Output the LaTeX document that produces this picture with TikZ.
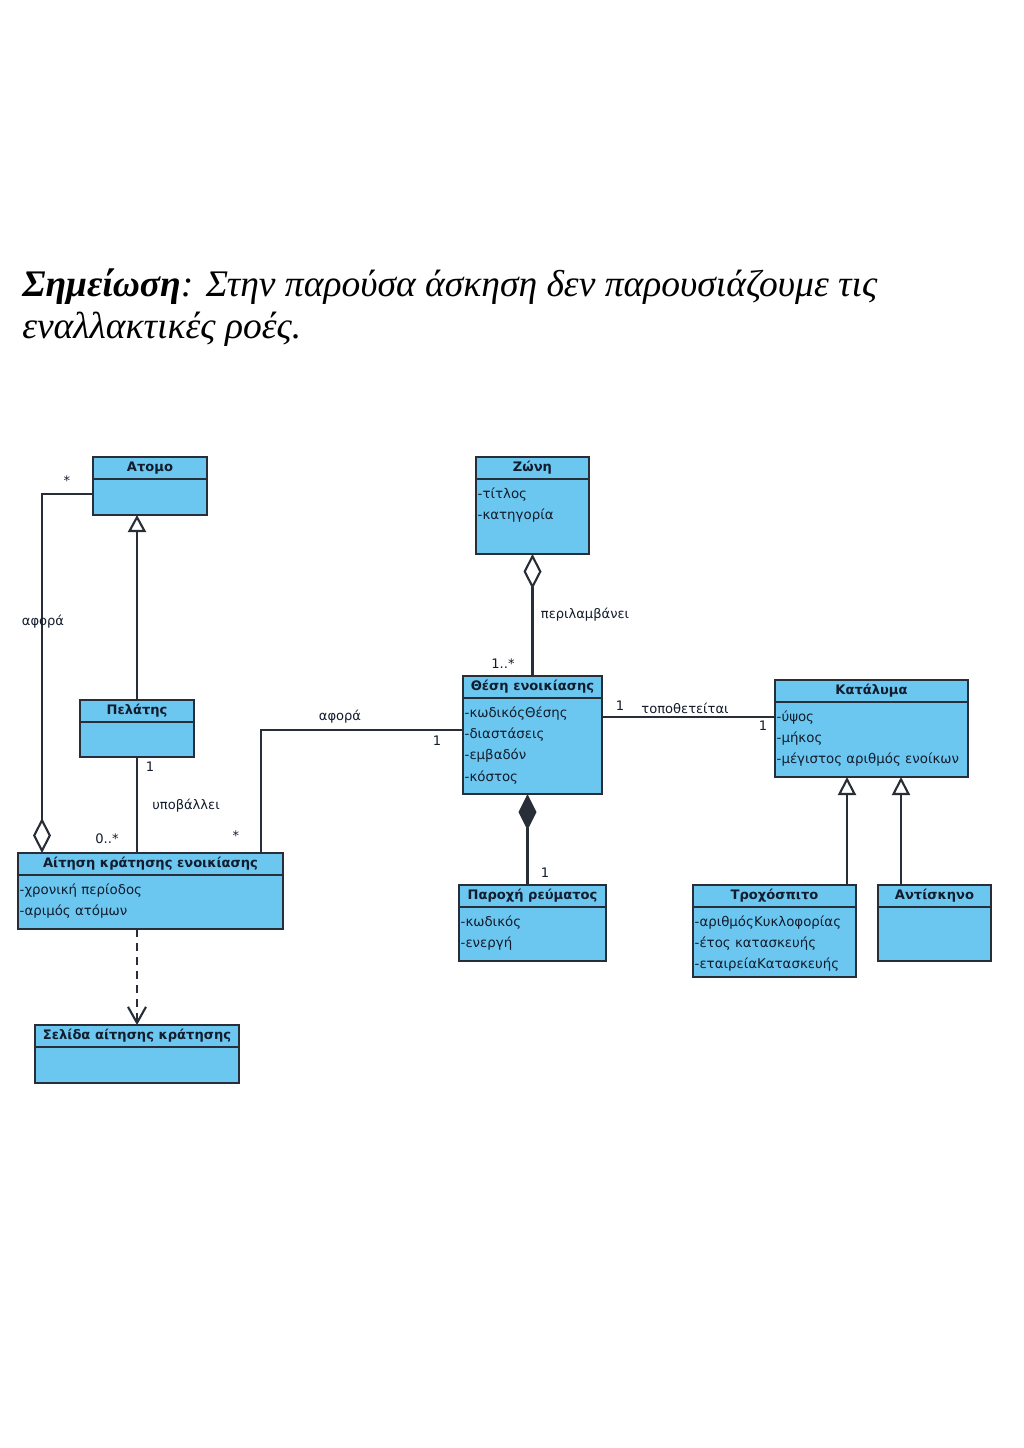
\documentclass[tikz,border=0pt]{standalone}
\usepackage{fontspec}
\setmainfont{Liberation Serif}
\newfontfamily\umlfont{DejaVu Sans}
\usepackage{tikz}
\usetikzlibrary{arrows.meta}
\usetikzlibrary{calc}
\usetikzlibrary{fit}
\definecolor{boxfill}{RGB}{108,199,240}
\definecolor{boxline}{RGB}{40,46,56}
\definecolor{boxtext}{RGB}{18,28,44}
\def\umlclass(#1)(#2,#3)(#4,#5)#6#7{%
    \node[classbox,fit={(#2,#3) (#4,#5)}] (#1) {};%
    \node[classhead,minimum width={(#4-#2)*0.025cm}] (#1-head) at (#2,#3) {#6};%
    \node[classattr] (#1-attr) at (#2,{#3+31}) {#7};%
}
\tikzset{
    classbox/.style={draw=boxline,fill=boxfill,line width=1.4pt,inner sep=0pt,outer sep=0pt},
    classhead/.style={draw=boxline,line width=1.4pt,inner sep=0pt,outer sep=0pt,anchor=north west,minimum height=0.55cm,
        text=boxtext,font=\umlfont\bfseries\fontsize{9.3}{11}\selectfont,text height=7pt,text depth=2pt},
    classattr/.style={anchor=north west,align=left,inner xsep=1pt,inner ysep=0pt,text=boxtext,
        font=\umlfont\fontsize{9.5}{14.94}\selectfont,execute at begin node=\strut},
    umlline/.style={draw=boxline,line width=1.5pt},
    umllabel/.style={text=boxtext,font=\umlfont\fontsize{9.3}{11}\selectfont,inner sep=1pt},
    notetext/.style={font=\itshape\fontsize{26.7}{32}\selectfont,inner sep=0pt,anchor=base west}
}

\begin{document}
\begin{tikzpicture}[x=0.025cm,y=-0.025cm]
        \fill[white] (0,0) rectangle (1024,1448);
        \useasboundingbox (0,0) rectangle (1024,1448);
        \node[notetext] (note1) at (22,296) {\textbf{Σημείωση}: Στην παρούσα άσκηση δεν παρουσιάζουμε τις};
        \node[notetext] (note2) at (22,338) {εναλλακτικές ροές.};

        \umlclass(atomo)(93,457)(207,515){Ατομο}{}
        \umlclass(zoni)(476,457)(589,554){Ζώνη}{-τίτλος\\-κατηγορία}
        \umlclass(pelatis)(80,700)(194,757){Πελάτης}{}
        \umlclass(thesi)(463,676)(602,794){Θέση ενοικίασης}{-κωδικόςΘέσης\\-διαστάσεις\\-εμβαδόν\\-κόστος}
        \umlclass(katalyma)(775,680)(968,777){Κατάλυμα}{-ύψος\\-μήκος\\-μέγιστος αριθμός ενοίκων}
        \umlclass(aitisi)(18,853)(283,929){Αίτηση κράτησης ενοικίασης}{-χρονική περίοδος\\-αριμός ατόμων}
        \umlclass(paroxi)(459,885)(606,961){Παροχή ρεύματος}{-κωδικός\\-ενεργή}
        \umlclass(troxo)(693,885)(856,977){Τροχόσπιτο}{-αριθμόςΚυκλοφορίας\\-έτος κατασκευής\\-εταιρείαΚατασκευής}
        \umlclass(antiskino)(878,885)(991,961){Αντίσκηνο}{}
        \umlclass(selida)(35,1025)(239,1083){Σελίδα αίτησης κράτησης}{}

        \draw[umlline,{Diamond[open,length=8.75mm,width=4.5mm]}-] ($(aitisi.north west)+(24,0)$) |- ($(atomo.west)+(0,8)$);
        \draw[umlline,-{Triangle[open,length=4.25mm,width=4.5mm]}] (pelatis.north) -- (pelatis.north |- atomo.south);
        \draw[umlline] (pelatis.south) -- (pelatis.south |- aitisi.north);
        \draw[umlline] ($(aitisi.north east)+(-22,0)$) |- ($(thesi.west)+(0,-5)$);
        \draw[umlline,{Diamond[open,length=8.75mm,width=4.5mm]}-] (zoni.south) -- (thesi.north);
        \draw[umlline] ($(thesi.east)+(0,-18)$) coordinate (c1) -- (c1 -| katalyma.west);
        \draw[umlline,{Diamond[length=9mm,width=4.5mm]}-] ($(thesi.south)+(-5,0)$) coordinate (c2) -- (c2 |- paroxi.north);
        \draw[umlline,-{Triangle[open,length=4.5mm,width=4.5mm]}] ($(troxo.north east)+(-9,0)$) coordinate (c3) -- (c3 |- katalyma.south);
        \draw[umlline,-{Triangle[open,length=4.5mm,width=4.5mm]}] ($(antiskino.north west)+(23,0)$) coordinate (c4) -- (c4 |- katalyma.south);
        \draw[umlline,dash pattern=on 2mm off 1.5mm,-{Straight Barb[length=4mm,width=4.5mm]}] (selida.north |- aitisi.south) -- (selida.north);

        \node[umllabel] (m1) at (67,481) {*};
        \node[umllabel] (l1) at (43,622) {αφορά};
        \node[umllabel] (m2) at (150,767) {1};
        \node[umllabel] (l2) at (186,806) {υποβάλλει};
        \node[umllabel] (m3) at (107,839) {0..*};
        \node[umllabel] (l3) at (340,717) {αφορά};
        \node[umllabel] (m4) at (437,741) {1};
        \node[umllabel] (m5) at (236,836) {*};
        \node[umllabel] (l4) at (585,615) {περιλαμβάνει};
        \node[umllabel] (m6) at (503,664) {1..*};
        \node[umllabel] (m7) at (620,706) {1};
        \node[umllabel] (l5) at (685,708) {τοποθετείται};
        \node[umllabel] (m8) at (763,726) {1};
        \node[umllabel] (m9) at (545,873) {1};
    \end{tikzpicture}
\end{document}
